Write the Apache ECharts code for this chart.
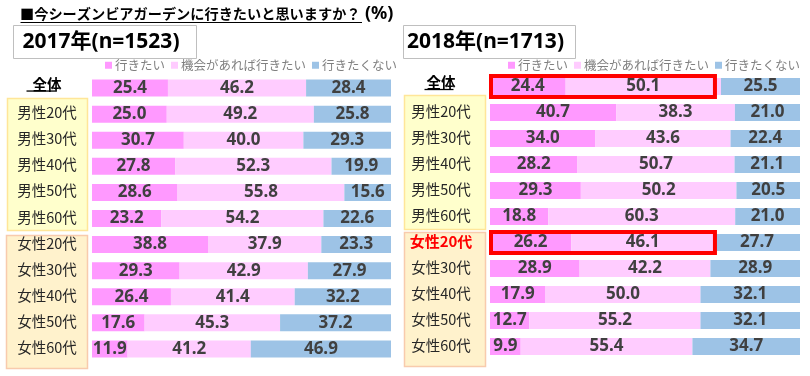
<!DOCTYPE html>
<html>
<head>
<meta charset="utf-8">
<script src="https://cdn.jsdelivr.net/npm/echarts@6/dist/echarts.min.js"></script>
<style>
  html, body {margin: 0; padding: 0; background: #fff;}
  #chart {width: 810px; height: 376px;}
</style>
</head>
<body>
<div id="chart"></div>
<script>
const categories = ['全体', '男性20代', '男性30代', '男性40代', '男性50代', '男性60代',
    '女性20代', '女性30代', '女性40代', '女性50代', '女性60代'];
const seriesNames = ['行きたい', '機会があれば行きたい', '行きたくない'];

// 2017 (n=1523)
const want2017 = [25.4, 25.0, 30.7, 27.8, 28.6, 23.2, 38.8, 29.3, 26.4, 17.6, 11.9];
const maybe2017 = [46.2, 49.2, 40.0, 52.3, 55.8, 54.2, 37.9, 42.9, 41.4, 45.3, 41.2];
const no2017 = [28.4, 25.8, 29.3, 19.9, 15.6, 22.6, 23.3, 27.9, 32.2, 37.2, 46.9];

// 2018 (n=1713)
const want2018 = [24.4, 40.7, 34.0, 28.2, 29.3, 18.8, 26.2, 28.9, 17.9, 12.7, 9.9];
const maybe2018 = [50.1, 38.3, 43.6, 50.7, 50.2, 60.3, 46.1, 42.2, 50.0, 55.2, 55.4];
const no2018 = [25.5, 21.0, 22.4, 21.1, 20.5, 21.0, 27.7, 28.9, 32.1, 32.1, 34.7];

const highlightRows = ['全体', '女性20代'];   // boxed in red on the 2018 side

const colors = ['#FF99FF', '#FFCCFF', '#9DC3E6'];
const cjk = '"Noto Sans CJK JP", "Noto Sans", sans-serif';
const num = '"Noto Sans", "Noto Sans CJK JP", sans-serif';

const chart = echarts.init(document.getElementById('chart'));

function makeYAxis(idx, margin) {
    return {
        type: 'category',
        gridIndex: idx,
        data: categories,
        inverse: true,
        axisLine: {show: false},
        axisTick: {show: false},
        axisLabel: {
            margin: margin,
            align: 'center',
            fontFamily: cjk,
            fontSize: 14.5,
            color: '#262626',
            padding: [0, 0, 3, 0],
            formatter: v => {
                if (v === '全体') return '{all|' + v + '}';
                if (idx === 1 && v === '女性20代') return '{hl|' + v + '}';
                return v;
            },
            rich: {
                all: {fontFamily: cjk, fontSize: 14.5, fontWeight: 'bold', color: '#000', padding: [0, 0, 5, 0]},
                hl: {fontFamily: cjk, fontSize: 15, fontWeight: 'bold', color: '#FF0000'}
            }
        }
    };
}

function makeSeries(idx, values) {
    return values.map((arr, i) => ({
        name: seriesNames[i],
        type: 'bar',
        stack: 'y' + idx,
        xAxisIndex: idx,
        yAxisIndex: idx,
        barWidth: 17,
        itemStyle: {color: colors[i]},
        label: {
            show: true,
            position: 'inside',
            fontFamily: num,
            fontWeight: 'bold',
            fontSize: 17,
            color: '#404040',
            formatter: p => p.value.toFixed(1)
        },
        data: arr
    }));
}

function legendAt(left) {
    return {
        data: seriesNames,
        left: left,
        top: 54,
        icon: 'rect',
        itemWidth: 7,
        itemHeight: 7,
        itemGap: 6,
        selectedMode: false,
        textStyle: {fontFamily: cjk, fontSize: 12.5, color: '#7F7F7F', padding: [0, 0, 0, -2]}
    };
}

chart.setOption({
    animation: false,
    legend: [legendAt(100), legendAt(503)],
    grid: [
        {left: 92, top: 75, width: 299, height: 287},
        {left: 490, top: 73.5, width: 310, height: 286}
    ],
    xAxis: [
        {type: 'value', gridIndex: 0, min: 0, max: 100, show: false},
        {type: 'value', gridIndex: 1, min: 0, max: 100, show: false}
    ],
    yAxis: [makeYAxis(0, 45), makeYAxis(1, 49)],
    series: [
        ...makeSeries(0, [want2017, maybe2017, no2017]),
        ...makeSeries(1, [want2018, maybe2018, no2018])
    ]
});

// boxes round the row labels, year headers, title, red highlight boxes
const g = [];
function labelBox(x, y, w, h, fill, stroke) {
    g.push({type: 'rect', z: -1, shape: {x: x, y: y, width: w, height: h},
        style: {fill: fill, stroke: stroke, lineWidth: 1.5}});
}
labelBox(7.5, 98.5, 80, 132, '#FFFFCC', '#FFE699');
labelBox(6.5, 235.5, 81, 133, '#FFF2CC', '#F8CBAD');
labelBox(404.5, 95.5, 81, 134, '#FFFFCC', '#FFE699');
labelBox(404.5, 232.5, 81, 134, '#FFF2CC', '#F8CBAD');

function yearBox(x, w, text) {
    g.push({type: 'rect', shape: {x: x, y: 25.5, width: w, height: 33},
        style: {fill: '#fff', stroke: '#BFBFBF', lineWidth: 1}});
    g.push({type: 'text', x: x + w / 2 - 4, y: 42, style: {text: text, align: 'center', verticalAlign: 'middle',
        fontFamily: num, fontWeight: 'bold', fontSize: 21, fill: '#000'}});
}
yearBox(13.5, 183, '2017年(n=1523)');
yearBox(403.5, 172, '2018年(n=1713)');

g.push({type: 'text', x: 20, y: 14, style: {text: '■今シーズンビアガーデンに行きたいと思いますか？',
    verticalAlign: 'middle', fontFamily: cjk, fontWeight: 'bold', fontSize: 14.2, fill: '#000'}});
g.push({type: 'line', shape: {x1: 20.5, y1: 22.5, x2: 362, y2: 22.5}, style: {stroke: '#000', lineWidth: 1}});
g.push({type: 'text', x: 365, y: 14, style: {text: '(%)', verticalAlign: 'middle',
    fontFamily: num, fontWeight: 'bold', fontSize: 18, fill: '#000'}});

// underline under 全体 labels
[0, 1].forEach(idx => {
    const c = chart.convertToPixel({yAxisIndex: idx}, '全体');
    const cx = idx === 0 ? 41 : 439;
    g.push({type: 'line', shape: {x1: cx - 14.5, y1: c + 3, x2: cx + 14.5, y2: c + 3},
        style: {stroke: '#000', lineWidth: 1.3}});
});

// red highlight boxes on 2018 side, same width, sized to the 全体 row
const x0 = chart.convertToPixel({xAxisIndex: 1}, 0);
const boxEnd = chart.convertToPixel({xAxisIndex: 1}, want2018[0] + maybe2018[0]) - 4;
highlightRows.forEach(name => {
    const cy = chart.convertToPixel({yAxisIndex: 1}, name);
    g.push({type: 'rect', z: 100, shape: {x: x0 + 1, y: cy - 10.5, width: boxEnd - 2 - (x0 + 1), height: 21},
        style: {fill: 'none', stroke: '#FF0000', lineWidth: 4}});
});

chart.setOption({graphic: g});
</script>
</body>
</html>
